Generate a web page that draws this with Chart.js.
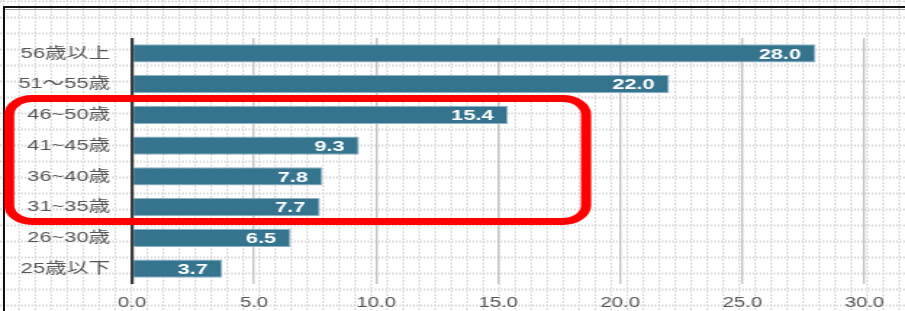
<!DOCTYPE html>
<html>
<head>
<meta charset="utf-8">
<script src="https://cdn.jsdelivr.net/npm/chart.js@4/dist/chart.umd.min.js"></script>
<style>
  html, body { margin: 0; padding: 0; background: #fff; }
  #wrap { position: relative; width: 905px; height: 311px; overflow: hidden; }
  #bg, #chart { position: absolute; left: 0; top: 0; }
</style>
</head>
<body>
<div id="wrap">
  <canvas id="bg" width="905" height="311"></canvas>
  <!-- the original picture is stretched sideways, so draw narrow and widen with css -->
  <canvas id="chart" width="624" height="311" style="width:905px;height:311px"></canvas>
</div>
<script>
const ageGroups = ["56歳以上", "51〜55歳", "46~50歳", "41~45歳", "36~40歳", "31~35歳", "26~30歳", "25歳以下"];
const shares = [28.0, 22.0, 15.4, 9.3, 7.8, 7.7, 6.5, 3.7];
const axisMin = 0;
const axisMax = 30;
const axisStep = 5;

const FONT = "'Liberation Sans', Arial, 'Noto Sans CJK JP', sans-serif";

// dotted sheet background + frame
(function drawBackground() {
  const c = document.getElementById("bg").getContext("2d");
  c.fillStyle = "#fff";
  c.fillRect(0, 0, 905, 311);
  c.strokeStyle = "#dddddd";
  c.lineWidth = 2;
  c.setLineDash([2, 1.5]);
  for (let y = 1.6; y < 311; y += 16) {
    c.beginPath(); c.moveTo(0, y); c.lineTo(905, y); c.stroke();
  }
  for (let x = 3.3; x < 905; x += 16) {
    c.beginPath(); c.moveTo(x, 0); c.lineTo(x, 311); c.stroke();
  }
  c.setLineDash([]);
  c.strokeStyle = "#111";
  c.lineWidth = 2;
  c.beginPath();
  c.moveTo(4, 311); c.lineTo(4, 7); c.lineTo(905, 7);
  c.stroke();
  c.strokeStyle = "#9a9a9a";
  c.lineWidth = 1;
  c.beginPath(); c.moveTo(5, 9.5); c.lineTo(905, 9.5); c.stroke();
})();

// white value labels at the end of each bar
const valueLabels = {
  id: "valueLabels",
  afterDatasetsDraw(chart) {
    const ctx = chart.ctx;
    const meta = chart.getDatasetMeta(0);
    ctx.save();
    ctx.fillStyle = "#fff";
    ctx.font = "bold 15px " + FONT;
    ctx.textAlign = "right";
    ctx.textBaseline = "middle";
    meta.data.forEach((bar, i) => {
      ctx.fillText(shares[i].toFixed(1), bar.x - 10, bar.y + 1);
    });
    ctx.restore();
  }
};

// red rounded box around 31~50
const highlight = {
  id: "highlight",
  afterDraw(chart) {
    const ctx = chart.ctx;
    const y = chart.scales.y;
    const x = chart.scales.x;
    const top = (y.getPixelForValue(1) + y.getPixelForValue(2)) / 2 - 1;
    const bottom = (y.getPixelForValue(5) + y.getPixelForValue(6)) / 2 - 1;
    const left = 6.3;
    const right = x.getPixelForValue(18.6);
    ctx.save();
    ctx.strokeStyle = "#ff0000";
    ctx.lineWidth = 7;
    ctx.beginPath();
    ctx.roundRect(left, top, right - left, bottom - top, 16);
    ctx.stroke();
    ctx.restore();
  }
};

new Chart(document.getElementById("chart"), {
  type: "bar",
  data: {
    labels: ageGroups,
    datasets: [{
      data: shares,
      backgroundColor: "#34748e",
      borderColor: "#8db2c3",
      borderWidth: 1,
      borderSkipped: "left",
      barPercentage: 0.6,
      categoryPercentage: 1.0
    }]
  },
  options: {
    indexAxis: "y",
    responsive: false,
    maintainAspectRatio: false,
    devicePixelRatio: 1,
    animation: false,
    layout: { padding: { top: 38, right: 28, left: 0, bottom: 0 } },
    plugins: {
      legend: { display: false },
      tooltip: { enabled: false }
    },
    scales: {
      x: {
        min: axisMin,
        max: axisMax,
        ticks: {
          stepSize: axisStep,
          padding: 11,
          color: "#555",
          font: { family: FONT, size: 14 },
          callback: (v) => Number(v).toFixed(1)
        },
        grid: {
          drawTicks: false,
          color: (c) => (c.tick && c.tick.value === 0 ? "#3c3c3c" : "#c2c2c2"),
          lineWidth: (c) => (c.tick && c.tick.value === 0 ? 2.2 : 1.4)
        },
        border: { display: false },
        afterFit: (s) => { s.height = 27; }
      },
      y: {
        ticks: {
          padding: 15,
          color: "#555",
          font: { family: FONT, size: 15 }
        },
        grid: { display: false, drawTicks: false },
        border: { display: false },
        afterFit: (s) => { s.width = 91; }
      }
    }
  },
  plugins: [valueLabels, highlight]
});
</script>
</body>
</html>
